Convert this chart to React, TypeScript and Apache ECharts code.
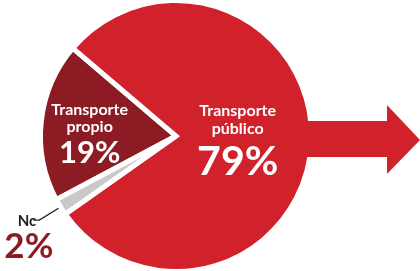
import React, { useEffect, useRef } from "react";
import * as echarts from "echarts";

const categories = ["Transporte propio", "Transporte público", "Nc"];
const labelLines = [["Transporte", "propio"], ["Transporte", "público"], ["Nc"]];
const values = [19, 79, 2];
const colors = ["#8c1b23", "#d1222b", "#c9c9c9"];

const FONT = "Lato, 'Open Sans', sans-serif";

export default function App() {
  const ref = useRef<HTMLDivElement>(null);
  useEffect(() => {
    if (!ref.current) return;
    const chart = echarts.init(ref.current, null, { renderer: "svg" });
    const data = categories.map((name, i) => {
      const item: any = {
        name,
        value: values[i],
        itemStyle: { color: colors[i] },
      };
      if (i === 2) {
        item.label = {
          show: true,
          position: "outside",
          distanceToLabelLine: -20,
          padding: [30, 0, 0, 0],
          formatter: () => `{n|${labelLines[2][0]}}\n{p|${values[2]}%}`,
          rich: {
            n: { fontFamily: FONT, fontSize: 15, fontWeight: 700, color: "#1e1e1e", lineHeight: 17, align: "right", padding: [0, 17, 0, 0] },
            p: { fontFamily: FONT, fontSize: 35, fontWeight: 700, color: "#8c1b23", lineHeight: 30, align: "left" },
          },
        };
        item.labelLine = { show: true, length: 25, length2: 6, lineStyle: { color: "#1e1e1e", width: 1.3 } };
      }
      return item;
    });
    chart.setOption({
      animation: false,
      graphic: [
        {
          type: "polygon",
          z: 100,
          shape: {
            points: [
              [292, 121],
              [387, 121],
              [387, 105],
              [420, 140],
              [387, 174],
              [387, 157],
              [292, 157],
            ],
          },
          style: { fill: colors[1] },
        },
      ],
      series: [
        {
          type: "pie",
          center: [176, 136],
          radius: 135.5,
          startAngle: 208,
          clockwise: true,
          avoidLabelOverlap: false,
          silent: true,
          emphasis: { disabled: true },
          itemStyle: { borderColor: "#ffffff", borderWidth: 5, borderJoin: "miter", borderMiterLimit: 10 },
          label: {
            show: true,
            position: "inside",
            formatter: (p: any) => {
              const i = p.dataIndex;
              if (i === 2) return "";
              const [a, b] = labelLines[i];
              return i === 0 ? `{t|${a}}\n{t|${b}}\n{p|${values[i]}%}` : `{u|${a}}\n{u|${b}}\n{q|${values[i]}%}`;
            },
            rich: {
              t: { fontFamily: FONT, fontSize: 16, fontWeight: 700, color: "#ffffff", lineHeight: 17, align: "center" },
              p: { fontFamily: FONT, fontSize: 31, fontWeight: 700, color: "#ffffff", lineHeight: 34, align: "center" },
              u: { fontFamily: FONT, fontSize: 16, fontWeight: 700, color: "#ffffff", lineHeight: 18, align: "center" },
              q: { fontFamily: FONT, fontSize: 41, fontWeight: 700, color: "#ffffff", lineHeight: 46, align: "center" },
            },
          },
          labelLine: { show: false },
          labelLayout: (params: any) => {
            if (params.dataIndex === 0) return { dx: -16, dy: 6 };
            if (params.dataIndex === 1) return { dx: -9, dy: 2 };
            return {};
          },
          data,
        },
      ],
    });
    return () => chart.dispose();
  }, []);
  return <div ref={ref} style={{ position: "fixed", left: 0, top: 0, width: 420, height: 271 }} />;
}
